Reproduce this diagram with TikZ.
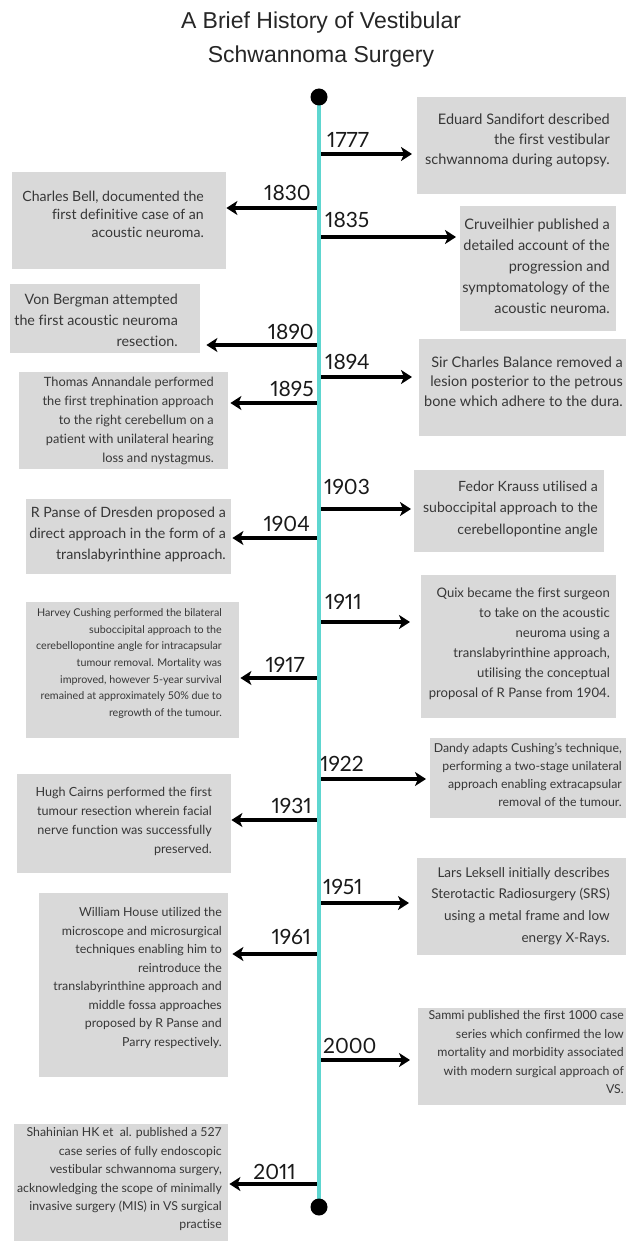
\documentclass[tikz,border=0pt]{standalone}
\usepackage{fontspec}
\setmainfont{Lato}[Ligatures=NoCommon]
\newfontfamily\titlefont{Liberation Sans}
\newfontfamily\yrfont{Lato}[Numbers=Proportional]
\usetikzlibrary{arrows.meta}
\definecolor{boxgray}{RGB}{217,217,217}
\definecolor{txtgray}{RGB}{55,55,55}
\definecolor{tealline}{RGB}{94,214,208}
\newcommand\fsz[2]{\fontsize{#1}{#2}\selectfont}
\tikzset{
  box/.style={fill=boxgray, draw=none, inner sep=0pt, anchor=north west},
  txt/.style={text=txtgray, align=right, inner sep=0pt, anchor=north east},
  yrR/.style={text=black!90, inner sep=0pt, anchor=base west, font=\yrfont\fsz{21}{21}},
  yrL/.style={text=black!90, inner sep=0pt, anchor=base east, font=\yrfont\fsz{21}{21}},
  arr/.style={draw=black, line width=3.5pt, -{Stealth[length=11pt,width=14pt,inset=3pt]}},
  dot/.style={circle, fill=black, minimum size=17pt, inner sep=0pt},
  ttl/.style={text=black!85, inner sep=0pt, anchor=base, font=\titlefont\fsz{23}{23}}
}
\begin{document}
\begin{tikzpicture}[x=1pt,y=-1pt]
\fill[white] (0,0) rectangle (626,1241);
\useasboundingbox (0,0) rectangle (626,1241);

% title
\node[ttl] (title1) at (321,29) {A Brief History of Vestibular};
\node[ttl] (title2) at (321,63) {Schwannoma Surgery};

% timeline coordinates
\coordinate (tl0) at (319,97);
\coordinate (tl1) at (319,1207);
\foreach \yr/\yy in {1777/154,1830/208,1835/237,1890/345,1894/377,1895/403,1903/509,1904/538,1911/622,1917/678,1922/779,1931/820,1951/903,1961/954,2000/1060,2011/1184}
  \coordinate (t\yr) at (319,\yy);

% boxes
\node[box, minimum width=209pt, minimum height=97pt] (b1777) at (417,97) {};
\node[box, minimum width=214pt, minimum height=97pt] (b1830) at (12,172) {};
\node[box, minimum width=156pt, minimum height=125pt] (b1835) at (460,206) {};
\node[box, minimum width=190pt, minimum height=69pt] (b1890) at (10,284) {};
\node[box, minimum width=207pt, minimum height=97pt] (b1894) at (419,339) {};
\node[box, minimum width=209pt, minimum height=97pt] (b1895) at (19,372) {};
\node[box, minimum width=190pt, minimum height=82pt] (b1903) at (414,470) {};
\node[box, minimum width=205pt, minimum height=75pt] (b1904) at (26,499) {};
\node[box, minimum width=195pt, minimum height=143pt] (b1911) at (421,575) {};
\node[box, minimum width=213pt, minimum height=136pt] (b1917) at (26,602) {};
\node[box, minimum width=196pt, minimum height=80pt] (b1922) at (430,738) {};
\node[box, minimum width=214pt, minimum height=99pt] (b1931) at (17,774) {};
\node[box, minimum width=209pt, minimum height=97pt] (b1951) at (417,858) {};
\node[box, minimum width=189pt, minimum height=184pt] (b1961) at (39,893) {};
\node[box, minimum width=208pt, minimum height=97pt] (b2000) at (418,1008) {};
\node[box, minimum width=214pt, minimum height=117pt] (b2011) at (14,1124) {};

% texts
\node[txt, font=\fsz{14.5}{20}] (x1777) at (610,113.6) {Eduard Sandifort described\\the first vestibular\\schwannoma during autopsy.};
\node[txt, font=\fsz{14.1}{18}] (x1830) at (204,190.8) {Charles Bell, documented the\\first definitive case of an\\acoustic neuroma.};
\node[txt, font=\fsz{14.5}{21}] (x1835) at (610,218.6) {Cruveilhier published a\\detailed account of the\\progression and\\symptomatology of the\\acoustic neuroma.};
\node[txt, font=\fsz{14.3}{21}] (x1890) at (178,293.7) {Von Bergman attempted\\the first acoustic neuroma\\resection.};
\node[txt, font=\fsz{14.5}{19.5}] (x1894) at (623,356.6) {Sir Charles Balance removed a\\lesion posterior to the petrous\\bone which adhere to the dura.};
\node[txt, font=\fsz{12.8}{19}] (x1895) at (214,376.4) {Thomas Annandale performed\\the first trephination approach\\to the right cerebellum on a\\patient with unilateral hearing\\loss and nystagmus.};
\node[txt, font=\fsz{14.1}{21.5}] (x1903) at (598,480.8) {Fedor Krauss utilised a\\suboccipital approach to the\\cerebellopontine angle};
\node[txt, font=\fsz{14.2}{21}] (x1904) at (226,506.8) {R Panse of Dresden proposed a\\direct approach in the form of a\\translabyrinthine approach.};
\node[txt, font=\fsz{13.1}{20}] (x1911) at (610,587.2) {Quix became the first surgeon\\to take on the acoustic\\neuroma using a\\translabyrinthine approach,\\utilising the conceptual\\proposal of R Panse from 1904.};
\node[txt, font=\fsz{10.7}{16.7}] (x1917) at (222,608.3) {Harvey Cushing performed the bilateral\\suboccipital approach to the\\cerebellopontine angle for intracapsular\\tumour removal. Mortality was\\improved, however 5-year survival\\remained at approximately 50\% due to\\regrowth of the tumour.};
\node[txt, font=\fsz{12.3}{18}] (x1922) at (622,742.6) {Dandy adapts Cushing's technique,\\performing a two-stage unilateral\\approach enabling extracapsular\\removal of the tumour.};
\node[txt, font=\fsz{12.6}{19}] (x1931) at (212,787.5) {Hugh Cairns performed the first\\tumour resection wherein facial\\nerve function was successfully\\preserved.};
\node[txt, font=\fsz{13.5}{21.7}] (x1951) at (610,867.1) {Lars Leksell initially describes\\Sterotactic Radiosurgery (SRS)\\using a metal frame and low\\energy X-Rays.};
\node[txt, font=\fsz{12.4}{18.5}] (x1961) at (222,907.5) {William House utilized the\\microscope and microsurgical\\techniques enabling him to\\reintroduce the\\translabyrinthine approach and\\middle fossa approaches\\proposed by R Panse and\\Parry respectively.};
\node[txt, font=\fsz{12.3}{18.5}] (x2000) at (624,1010.6) {Sammi published the first 1000 case\\series which confirmed the low\\mortality and morbidity associated\\with modern surgical approach of\\VS.};
\node[txt, font=\fsz{12.3}{18.4}] (x2011) at (222,1127.6) {Shahinian HK et~~al. published a 527\\case series of fully endoscopic\\vestibular schwannoma surgery,\\acknowledging the scope of minimally\\invasive surgery (MIS) in VS surgical\\practise};

% years
\node[yrR] (y1777) at (327,148) {1777};
\node[yrL] (y1830) at (311,201) {1830};
\node[yrR] (y1835) at (325,228) {1835};
\node[yrL] (y1890) at (314,339) {1890};
\node[yrR] (y1894) at (325,369) {1894};
\node[yrL] (y1895) at (314,396) {1895};
\node[yrR] (y1903) at (324,494) {1903};
\node[yrL] (y1904) at (310,531) {1904};
\node[yrR] (y1911) at (325,609) {1911};
\node[yrL] (y1917) at (305,672) {1917};
\node[yrR] (y1922) at (320,771) {1922};
\node[yrL] (y1931) at (312,813) {1931};
\node[yrR] (y1951) at (323,894) {1951};
\node[yrL] (y1961) at (311,944) {1961};
\node[yrR] (y2000) at (323,1053) {2000};
\node[yrL] (y2011) at (296,1179) {2011};

% arrows
\draw[arr, shorten >=5pt] (t1777) -- (b1777.west |- t1777);
\draw[arr, shorten >=0pt] (t1830) -- (b1830.east |- t1830);
\draw[arr, shorten >=4pt] (t1835) -- (b1835.west |- t1835);
\draw[arr, shorten >=6pt] (t1890) -- (b1890.east |- t1890);
\draw[arr, shorten >=7pt] (t1894) -- (b1894.west |- t1894);
\draw[arr, shorten >=2pt] (t1895) -- (b1895.east |- t1895);
\draw[arr, shorten >=3pt] (t1903) -- (b1903.west |- t1903);
\draw[arr, shorten >=1pt] (t1904) -- (b1904.east |- t1904);
\draw[arr, shorten >=11pt] (t1911) -- (b1911.west |- t1911);
\draw[arr, shorten >=1pt] (t1917) -- (b1917.east |- t1917);
\draw[arr, shorten >=4pt] (t1922) -- (b1922.west |- t1922);
\draw[arr, shorten >=0pt] (t1931) -- (b1931.east |- t1931);
\draw[arr, shorten >=8pt] (t1951) -- (b1951.west |- t1951);
\draw[arr, shorten >=4pt] (t1961) -- (b1961.east |- t1961);
\draw[arr, shorten >=8pt] (t2000) -- (b2000.west |- t2000);
\draw[arr, shorten >=1pt] (t2011) -- (b2011.east |- t2011);

% timeline
\draw[tealline, line width=4pt] (tl0) -- (tl1);
\node[dot] (d0) at (tl0) {};
\node[dot] (d1) at (tl1) {};
\end{tikzpicture}
\end{document}
